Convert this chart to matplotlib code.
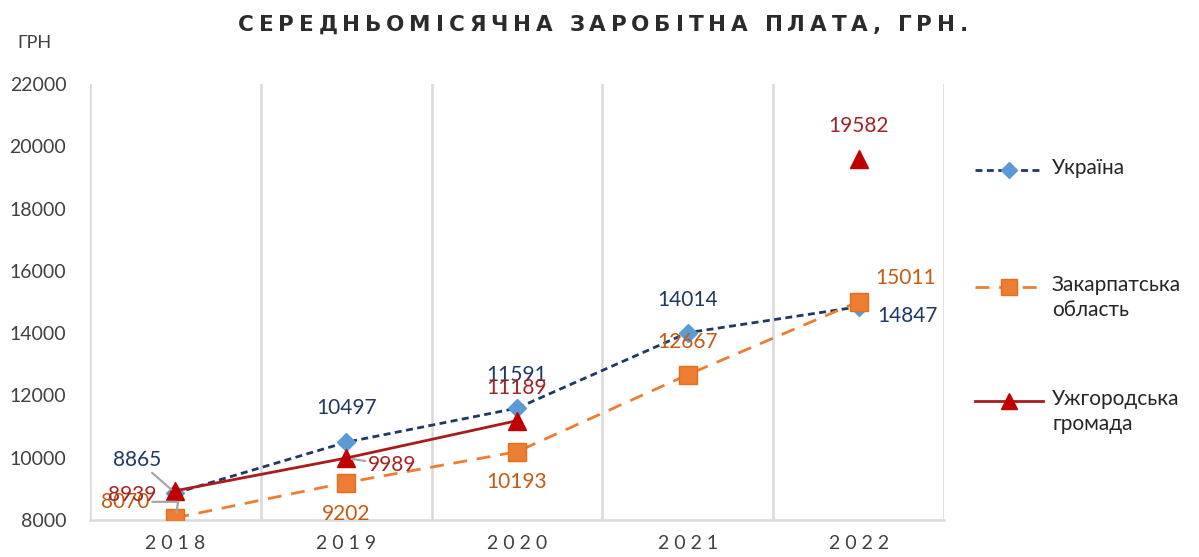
import matplotlib
matplotlib.use("Agg")
import matplotlib.pyplot as plt
from matplotlib.lines import Line2D
import numpy as np

years = ["2018", "2019", "2020", "2021", "2022"]
ukraine = [8865, 10497, 11591, 14014, 14847]
zakarpattia = [8070, 9202, 10193, 12667, 15011]
uzhhorod = [8939, 9989, 11189, np.nan, 19582]
series_names = ["Україна", "Закарпатська\nобласть", "Ужгородська\nгромада"]
title = "СЕРЕДНЬОМІСЯЧНА ЗАРОБІТНА ПЛАТА, ГРН."
y_unit = "ГРН"
y_ticks = list(range(8000, 22001, 2000))

W, H = 1199, 557
fig = plt.figure(figsize=(W / 100, H / 100), dpi=100)
L, R, B, T = 90, 944, 520, 84
ax = fig.add_axes([L / W, 1 - B / H, (R - L) / W, (B - T) / H])

FONT = "Lato"
NAVY, BLUE = "#1F3864", "#5B9BD5"
ORANGE, ORANGE_T = "#ED7D31", "#C55A11"
RED_L, RED_M, RED_T = "#A81C1C", "#C00000", "#A52222"
GRID = "#D9D9D9"
TXT = "#404040"

x = np.arange(len(years))
ax.plot(x, ukraine, color=NAVY, lw=2.0, dashes=(2.5, 1.6), marker="D", ms=9,
        mfc=BLUE, mec=BLUE, zorder=3)
ax.plot(x, zakarpattia, color=ORANGE, lw=2.0, dashes=(5, 3.5), marker="s", ms=13,
        mfc=ORANGE, mec="#E0701F", zorder=4)
ax.plot(x, uzhhorod, color=RED_L, lw=2.0, marker="^", ms=13,
        mfc=RED_M, mec=RED_M, zorder=5)

ax.set_xlim(-0.5, len(years) - 0.5)
ax.set_ylim(8000, 22000)
ax.set_yticks(y_ticks)
ax.set_yticklabels([str(v) for v in y_ticks], fontsize=14, color=TXT, family=FONT)
ax.set_xticks(x)
ax.set_xticklabels([" ".join(y) for y in years], fontsize=14, color=TXT, family=FONT)
ax.tick_params(axis="y", length=0, pad=17)
ax.tick_params(axis="x", length=0, pad=11)
for b in np.arange(-0.5, len(years), 1.0):
    ax.axvline(b, color=GRID, lw=1.8, zorder=1)
for s in ["top", "right", "left"]:
    ax.spines[s].set_visible(False)
ax.spines["bottom"].set_color(GRID)
ax.spines["bottom"].set_linewidth(1.8)

# data labels
lab_kw = dict(textcoords="offset pixels", ha="center", va="center",
              fontsize=15, family=FONT, zorder=6)
lead = dict(arrowstyle="-", color="#A6A6A6", lw=1.6, shrinkA=0, shrinkB=4)
offsets_ukr = [(-38, 33), (0, 34), (0, 33), (0, 33), (49, -9)]
offsets_zak = [(-50, 16), (0, -31), (0, -30), (0, 33), (47, 24)]
offsets_uzh = [(-43, -4), (46, -7), (0, 33), None, (0, 33)]
for i in range(len(years)):
    dx, dy = offsets_ukr[i]
    ax.annotate(str(ukraine[i]), (x[i], ukraine[i]), xytext=(dx, dy), color=NAVY,
                arrowprops=lead if i == 0 else None, **lab_kw)
    dx, dy = offsets_zak[i]
    ax.annotate(str(zakarpattia[i]), (x[i], zakarpattia[i]), xytext=(dx, dy), color=ORANGE_T,
                arrowprops=dict(lead, connectionstyle="angle,angleA=0,angleB=80,rad=0") if i == 0 else None,
                **lab_kw)
    if offsets_uzh[i] is not None and not np.isnan(uzhhorod[i]):
        dx, dy = offsets_uzh[i]
        ax.annotate(str(int(uzhhorod[i])), (x[i], uzhhorod[i]), xytext=(dx, dy), color=RED_T,
                    arrowprops=lead if i == 1 else None, **lab_kw)

# legend (manual)
def fx(px):
    return px / W

def fy(py):
    return 1 - py / H

leg = [
    (170, dict(color=NAVY, lw=2.0, dashes=(2.5, 1.6)), dict(marker="D", ms=8, mfc=BLUE, mec=BLUE)),
    (287, dict(color=ORANGE, lw=2.0, dashes=(5, 3.5)), dict(marker="s", ms=12, mfc=ORANGE, mec="#E0701F")),
    (401, dict(color=RED_L, lw=2.0), dict(marker="^", ms=12, mfc=RED_M, mec=RED_M)),
]
for (py, lkw, mkw), name in zip(leg, series_names):
    fig.add_artist(Line2D([fx(975), fx(1043)], [fy(py), fy(py)], transform=fig.transFigure, **lkw))
    fig.add_artist(Line2D([fx(1009)], [fy(py)], transform=fig.transFigure, lw=0, **mkw))
    fig.text(fx(1052), fy(py - 12), name, ha="left", va="top", fontsize=15, family=FONT,
             color="#262626", linespacing=1.3)

# y unit label
fig.text(fx(17), fy(43), y_unit, ha="left", va="center", fontsize=13, color=TXT, family=FONT)

# title with letter spacing
r = fig.canvas.get_renderer()
tkw = dict(fontsize=15.5, fontweight="bold", family="DejaVu Sans", color="#2B2B2B")
widths = []
for ch in title:
    if ch == " ":
        t = fig.text(0, 0, "a a", **tkw)
        w_full = t.get_window_extent(r).width
        t.remove()
        t = fig.text(0, 0, "aa", **tkw)
        w = w_full - t.get_window_extent(r).width
        t.remove()
    else:
        t = fig.text(0, 0, ch, **tkw)
        w = t.get_window_extent(r).width
        t.remove()
    widths.append(w)
x0, x1 = 238, 968
track = ((x1 - x0) - sum(widths)) / (len(title) - 1)
cx = x0
for ch, w in zip(title, widths):
    if ch != " ":
        fig.text(fx(cx), fy(25), ch, ha="left", va="center", **tkw)
    cx += w + track

fig.savefig("out.png", dpi=100)
